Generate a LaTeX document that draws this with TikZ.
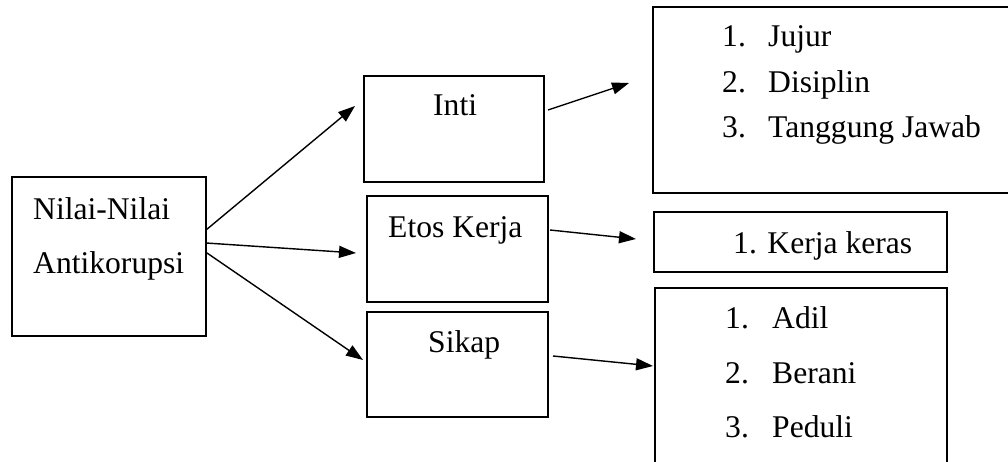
\documentclass[tikz,border=0pt]{standalone}
\usepackage{fontspec}
\setmainfont{Liberation Serif}
\usetikzlibrary{arrows.meta}
\begin{document}
\begin{tikzpicture}[x=1pt,y=-1pt,
  box/.style={draw=black,line width=1.3pt,rectangle,inner sep=0pt,outer sep=0pt},
  openbox/.style={rectangle,inner sep=0pt,outer sep=0pt},
  edge/.style={line width=1.3pt},
  lbl/.style={inner sep=0pt,anchor=base west,font=\fontsize{31.6}{38}\selectfont},
  arr/.style={line width=1.4pt,-{Triangle[length=17pt,width=12pt]}}]
\useasboundingbox (0,0) rectangle (1008,462);
\clip (0,0) rectangle (1008,462);
\fill[white] (0,0) rectangle (1008,462);
% boxes
\node[box,minimum width=194pt,minimum height=159pt] (nilai) at (109,256.5) {};
\node[box,minimum width=180pt,minimum height=106pt] (inti) at (454,129) {};
\node[box,minimum width=181pt,minimum height=106pt] (etos) at (457.5,249) {};
\node[box,minimum width=181pt,minimum height=105pt] (sikap) at (457.5,364.5) {};
\node[openbox,minimum width=362pt,minimum height=186pt] (list1) at (834,100) {};
\draw[edge] (list1.north east) -- (list1.north west) -- (list1.south west) -- (list1.south east);
\node[box,minimum width=293pt,minimum height=60pt] (kerja) at (800.5,242) {};
\node[openbox,minimum width=292pt,minimum height=182pt] (list3) at (801,379) {};
\draw[edge] (list3.south west) -- (list3.north west) -- (list3.north east) -- (list3.south east);
% texts
\node[lbl] (t1) at (33,219) {Nilai-Nilai};
\node[lbl] (t2) at (33,273) {Antikorupsi};
\node[lbl] (t3) at (433,116) {Inti};
\node[lbl] (t4) at (388,237) {Etos Kerja};
\node[lbl] (t5) at (428,352) {Sikap};
\node[lbl] (n11) at (722,47) {1.};
\node[lbl] (l11) at (768,47) {Jujur};
\node[lbl] (n12) at (722,93) {2.};
\node[lbl] (l12) at (768,93) {Disiplin};
\node[lbl] (n13) at (722,138) {3.};
\node[lbl] (l13) at (768,138) {Tanggung Jawab};
\node[lbl] (l21) at (733,253) {1. Kerja keras};
\node[lbl] (n31) at (725,328) {1.};
\node[lbl] (l31) at (772,328) {Adil};
\node[lbl] (n32) at (725,383) {2.};
\node[lbl] (l32) at (772,383) {Berani};
\node[lbl] (n33) at (725,437) {3.};
\node[lbl] (l33) at (772,437) {Peduli};
% arrow endpoints
\coordinate (a1s) at (nilai.east |- 0,230);
\coordinate (a1e) at (355,106);
\coordinate (a2s) at (nilai.east |- 0,243);
\coordinate (a2e) at (356,253);
\coordinate (a3s) at ([xshift=1pt]nilai.east |- 0,253);
\coordinate (a3e) at (363,360);
\coordinate (a4s) at (548,110);
\coordinate (a4e) at (629,83);
\coordinate (a5s) at (550,230);
\coordinate (a5e) at (636,239);
\coordinate (a6s) at (553,356);
\coordinate (a6e) at (653,366);
\draw[arr] (a1s) -- (a1e);
\draw[arr] (a2s) -- (a2e);
\draw[arr] (a3s) -- (a3e);
\draw[arr] (a4s) -- (a4e);
\draw[arr] (a5s) -- (a5e);
\draw[arr] (a6s) -- (a6e);
\end{tikzpicture}
\end{document}
